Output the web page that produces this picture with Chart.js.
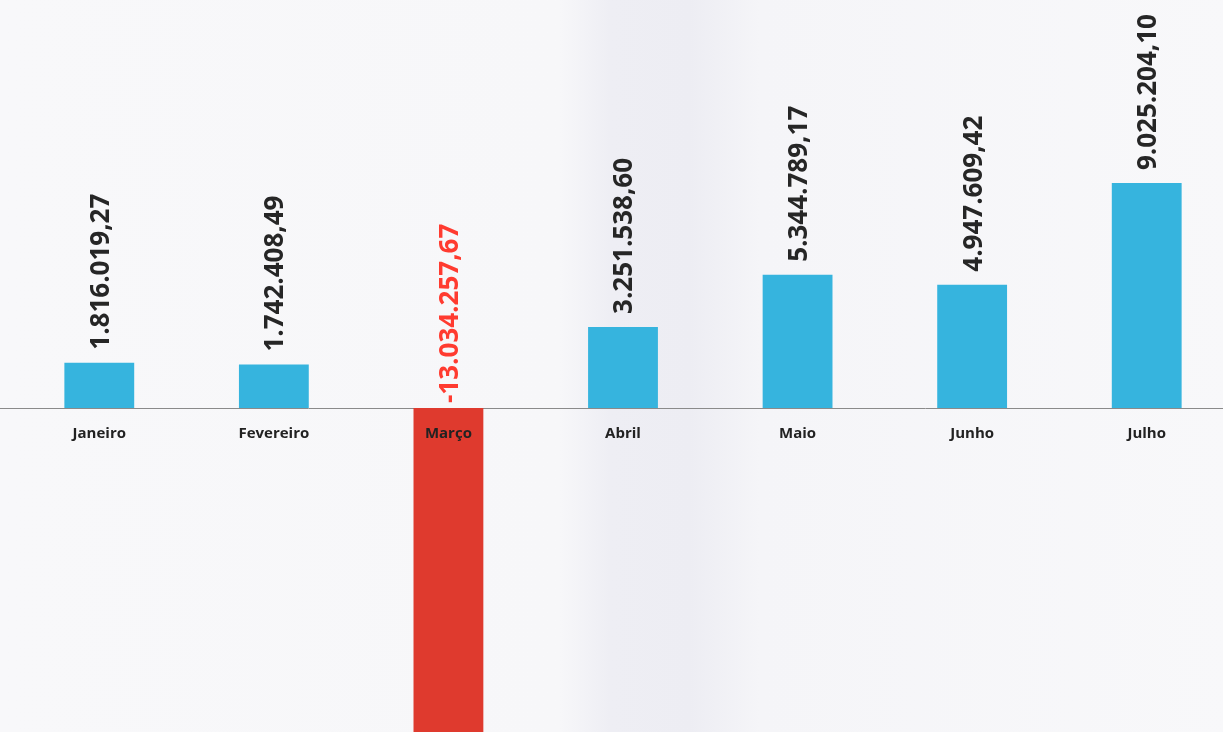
<!DOCTYPE html>
<html>
<head>
<meta charset="utf-8">
<script src="https://cdn.jsdelivr.net/npm/chart.js@4"></script>
<style>
    html, body { margin: 0; padding: 0; overflow: hidden; background: #f8f8fa; }
    body { width: 1223px; height: 732px; }
    #wrap {
        position: relative; width: 1234px; height: 732px;
        background: linear-gradient(to right, #f8f8fa 0px, #f7f7f9 560px, #eeeef4 610px, #ededf3 690px, #f5f5f8 760px, #f8f8fa 1234px);
    }
</style>
</head>
<body>
<div id="wrap"><canvas id="chart"></canvas></div>
<script>
const meses = ['Janeiro', 'Fevereiro', 'Março', 'Abril', 'Maio', 'Junho', 'Julho']
const valores = [1816019.27, 1742408.49, -13034257.67, 3251538.60, 5344789.17, 4947609.42, 9025204.10]
const eixoMin = -13000000
const eixoMax = 16370000

const azul = '#36b4de'
const vermelho = '#df3a2e'

// 1.234.567,89
function formata(v) {
    const neg = v < 0
    const partes = Math.abs(v).toFixed(2).split('.')
    const inteiro = partes[0].replace(/\B(?=(\d{3})+(?!\d))/g, '.')
    return (neg ? '-' : '') + inteiro + ',' + partes[1]
}

const linhaZero = {
    id: 'linhaZero',
    beforeDatasetsDraw(chart) {
        const ctx = chart.ctx
        const y = Math.round(chart.scales.y.getPixelForValue(0)) + 0.5
        ctx.save()
        ctx.strokeStyle = '#8a8a8a'
        ctx.lineWidth = 1
        ctx.beginPath()
        ctx.moveTo(0, y)
        ctx.lineTo(chart.width, y)
        ctx.stroke()
        ctx.restore()
    }
}

// valores em pé sobre as barras + nomes dos meses por cima das barras
const rotulos = {
    id: 'rotulos',
    afterDatasetsDraw(chart) {
        const ctx = chart.ctx
        const zero = chart.scales.y.getPixelForValue(0)
        const xs = chart.scales.x
        const meta = chart.getDatasetMeta(0)
        ctx.save()
        ctx.font = 'bold 26px "Open Sans"'
        ctx.textBaseline = 'middle'
        ctx.textAlign = 'left'
        meta.data.forEach((bar, i) => {
            const v = valores[i]
            const base = v < 0 ? zero - 5 : bar.y - 13
            ctx.fillStyle = v < 0 ? '#ff3b30' : '#262626'
            ctx.save()
            ctx.translate(bar.x + 2, base)
            ctx.rotate(-Math.PI / 2)
            ctx.fillText(formata(v), 0, 0)
            ctx.restore()
        })
        ctx.font = 'bold 15px "Open Sans"'
        ctx.textAlign = 'center'
        ctx.fillStyle = '#222'
        meses.forEach((m, i) => {
            ctx.fillText(m, xs.getPixelForValue(i), zero + 26)
        })
        ctx.restore()
    }
}

new Chart(document.getElementById('chart'), {
    type: 'bar',
    data: {
        labels: meses,
        datasets: [{
            data: valores,
            backgroundColor: valores.map(v => v < 0 ? vermelho : azul),
            barPercentage: 0.4,
            categoryPercentage: 1
        }]
    },
    options: {
        animation: false,
        responsive: true,
        maintainAspectRatio: false,
        layout: { padding: { left: 12, right: 0, top: 0, bottom: 0 } },
        plugins: { legend: { display: false }, tooltip: { enabled: false } },
        scales: {
            x: {
                position: { y: 0 },
                grid: { display: false, drawTicks: false },
                border: { display: false },
                ticks: { display: false }
            },
            y: {
                display: false,
                min: eixoMin,
                max: eixoMax
            }
        }
    },
    plugins: [linhaZero, rotulos]
})
</script>
</body>
</html>
